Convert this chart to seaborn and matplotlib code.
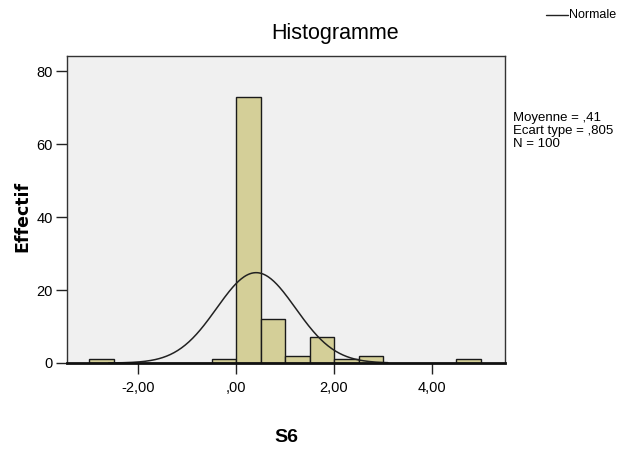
import numpy as np
import pandas as pd
import matplotlib
matplotlib.use("Agg")
import matplotlib.pyplot as plt
import seaborn as sns

# ---- data ----
bin_edges = [-3.0, -2.5, -2.0, -1.5, -1.0, -0.5, 0.0, 0.5, 1.0, 1.5, 2.0, 2.5, 3.0, 3.5, 4.0, 4.5, 5.0]
counts = [1, 0, 0, 0, 0, 1, 73, 12, 2, 7, 1, 2, 0, 0, 0, 1]
mean_val = 0.41
sd_val = 0.805
n_val = 100
x_ticks = [-2.0, 0.0, 2.0, 4.0]
x_tick_labels = ["-2,00", ",00", "2,00", "4,00"]
y_ticks = [0, 20, 40, 60, 80]
y_tick_labels = ["0", "20", "40", "60", "80"]

sns.set_style("white")
plt.rcParams["font.family"] = ["Liberation Sans", "DejaVu Sans"]
plt.rcParams["text.color"] = "black"
plt.rcParams["xtick.color"] = "black"
plt.rcParams["ytick.color"] = "black"

centers = [(bin_edges[i] + bin_edges[i + 1]) / 2 for i in range(len(counts))]
df = pd.DataFrame({"S6": centers, "n": counts})

fig = plt.figure(figsize=(6.3, 4.54), dpi=100)
W, H = 630, 454
ax = fig.add_axes([67 / W, 1 - 363 / H, (505 - 67) / W, (363 - 56) / H])
ax.set_facecolor("#f0f0f0")

sns.histplot(data=df, x="S6", weights="n", bins=bin_edges, ax=ax,
             color="#d4cf98", edgecolor="#1a1a1a", linewidth=1.0, alpha=1.0)

# normal curve
xs = np.linspace(-2.6, 3.1, 300)
binw = bin_edges[1] - bin_edges[0]
ys = n_val * binw / (sd_val * np.sqrt(2 * np.pi)) * np.exp(-0.5 * ((xs - mean_val) / sd_val) ** 2)
sns.lineplot(x=xs, y=ys, ax=ax, color="#222222", linewidth=1.1)

ax.set_xlim(-3.45, 5.49)
ax.set_ylim(0, 84.2)
ax.set_xticks(x_ticks)
ax.set_xticklabels(x_tick_labels, fontsize=10.5)
ax.set_yticks(y_ticks)
ax.set_yticklabels(y_tick_labels, fontsize=10.5)
ax.tick_params(axis="both", which="major", bottom=True, left=True, direction="out",
               length=8, width=1, color="#222222", pad=2)
ax.tick_params(axis="x", pad=5)
for s in ax.spines.values():
    s.set_color("#333333")
    s.set_linewidth(1.0)
ax.spines["bottom"].set_linewidth(2.0)
ax.spines["bottom"].set_color("#111111")
ax.set_xlabel("")
ax.set_ylabel("")

fig.text(335 / W, 1 - 33 / H, "Histogramme", ha="center", va="center", fontsize=15.5)
fig.text(286 / W, 1 - 437 / H, "S6", ha="center", va="center", fontsize=14, fontweight="bold")
fig.text(22 / W, 1 - 216 / H, "Effectif", ha="center", va="center", rotation=90,
         fontsize=12.5, fontweight="bold", family=["DejaVu Sans"])

# legend-like line
fig.add_artist(plt.Line2D([546 / W, 568 / W], [1 - 15 / H, 1 - 15 / H], color="#222222", lw=1.0))
fig.text(569 / W, 1 - 15 / H, "Normale", ha="left", va="center", fontsize=9)

fig.text(513 / W, 1 - 131 / H, "Moyenne = ,41\nEcart type = ,805\nN = 100",
         ha="left", va="center", fontsize=9.5, linespacing=1.15)

fig.savefig("out.png", dpi=100, facecolor="white")
